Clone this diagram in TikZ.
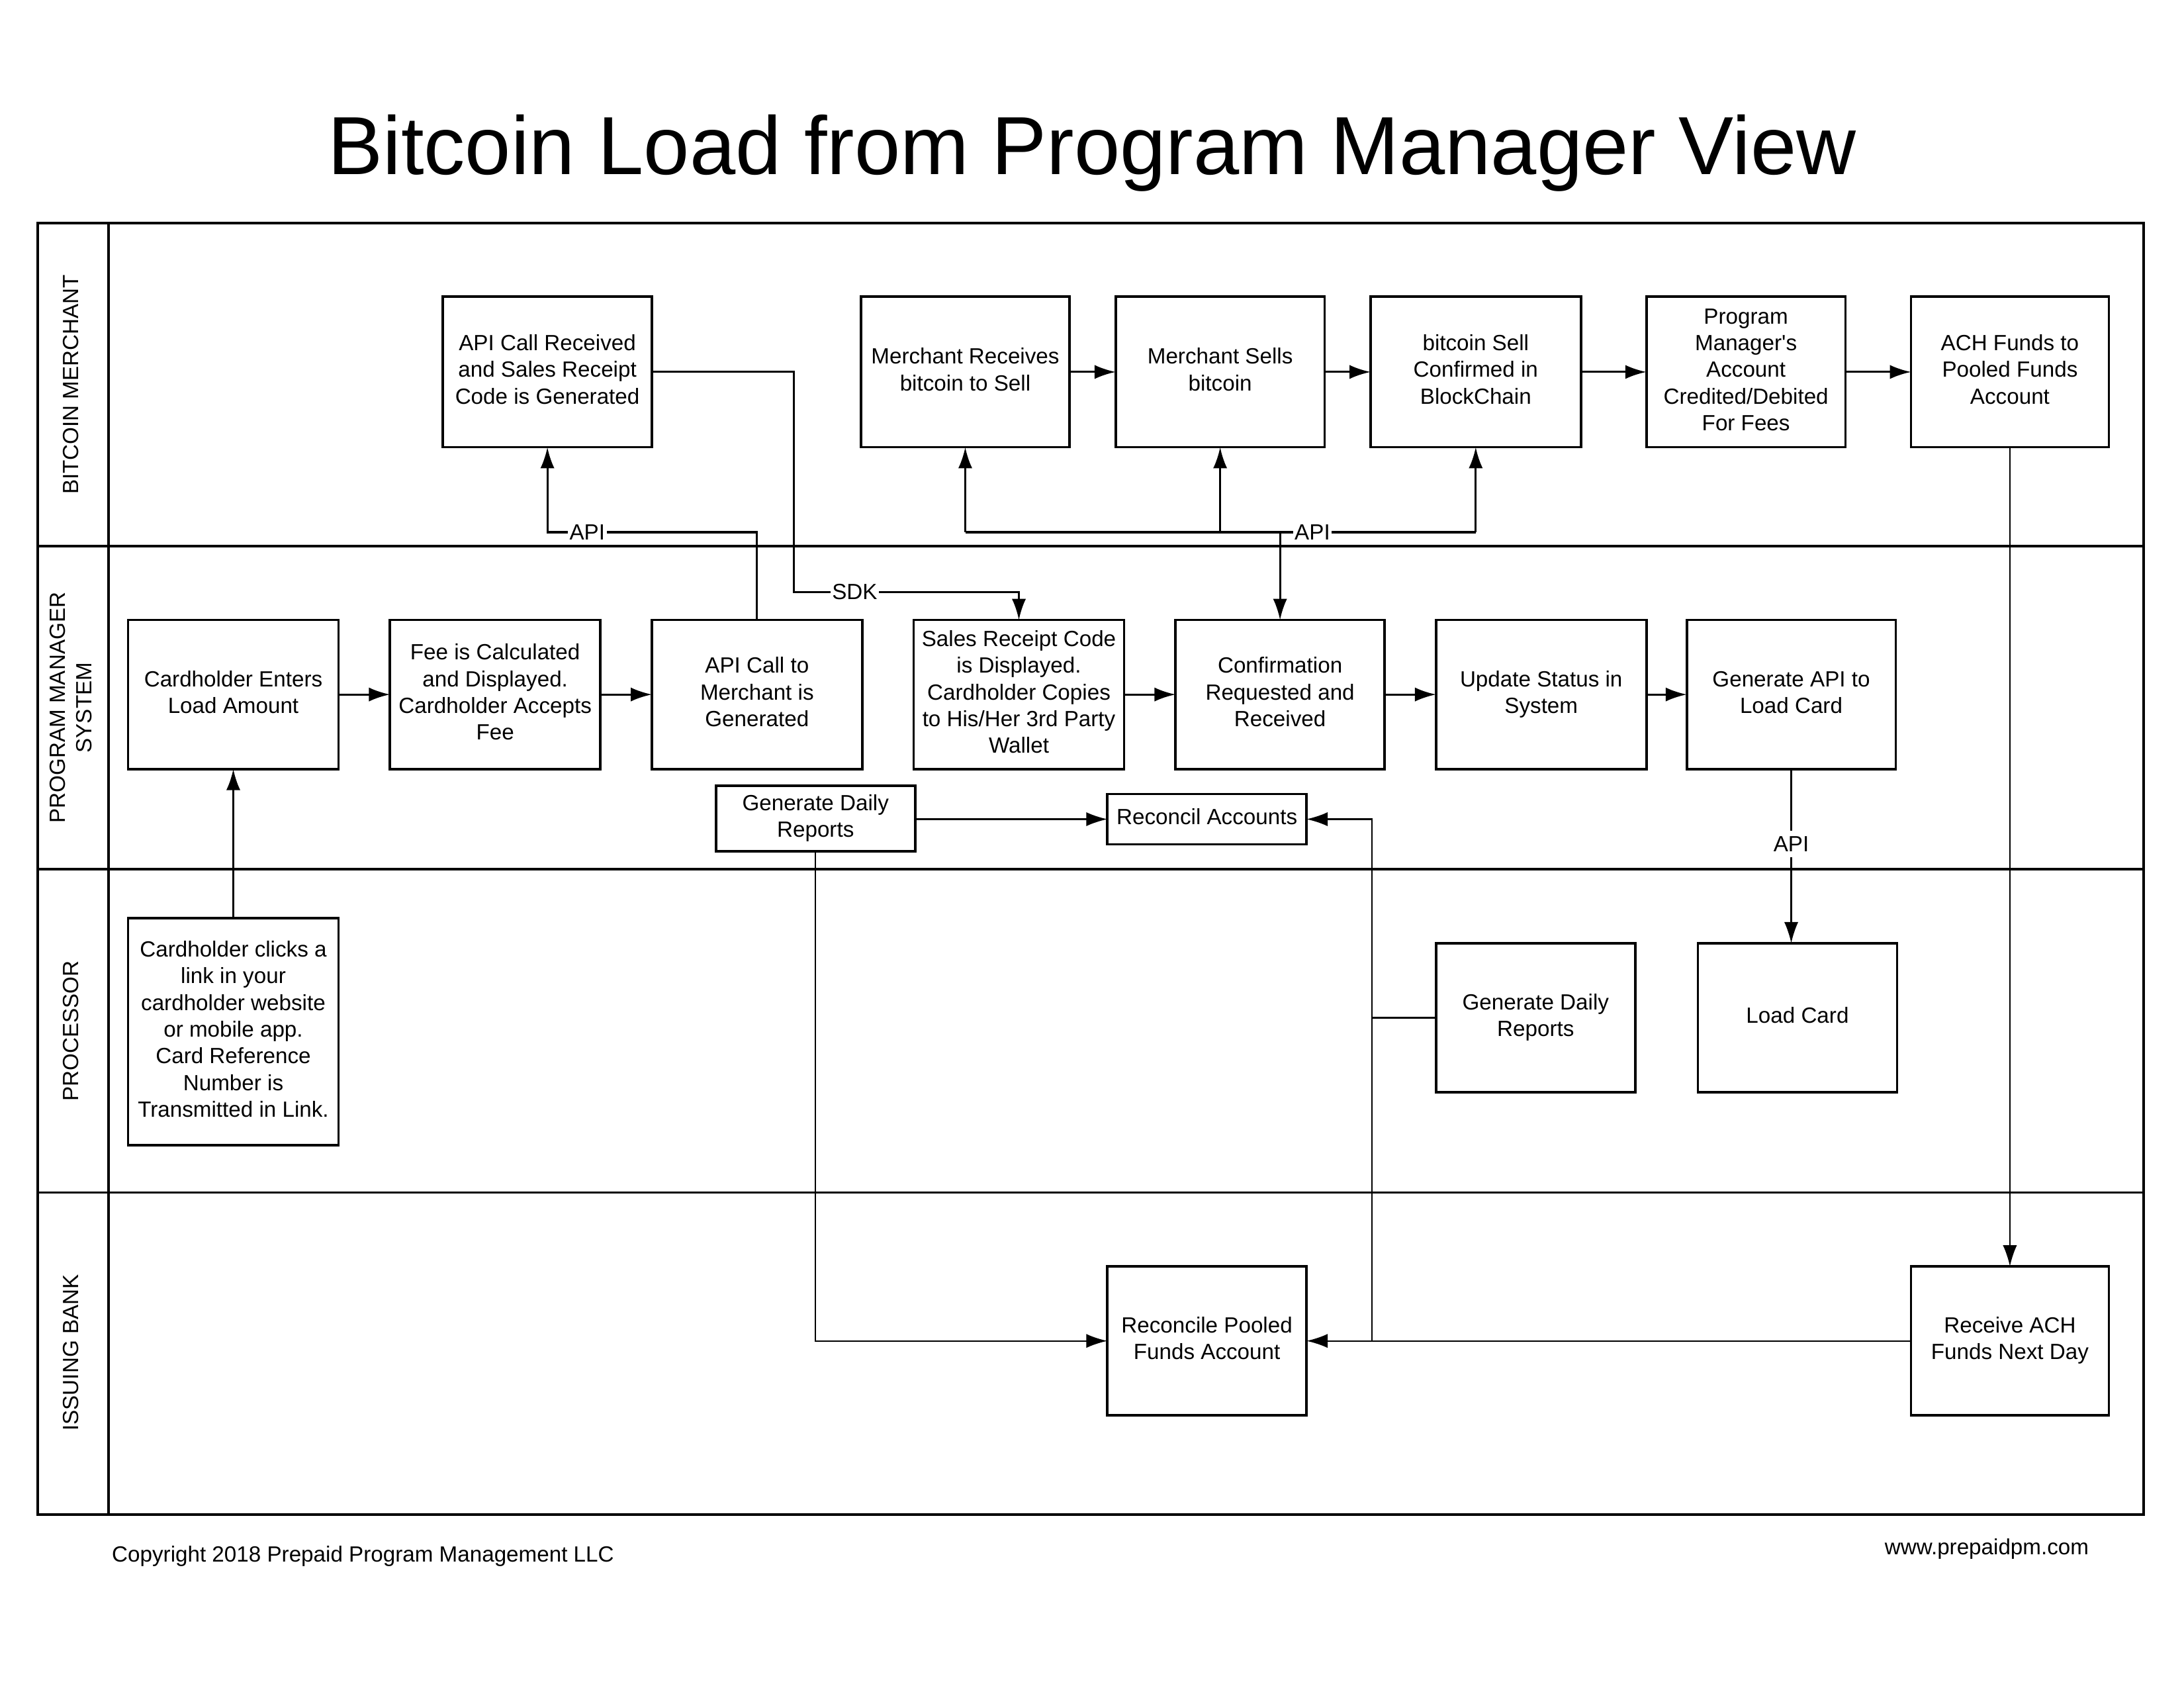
\documentclass[tikz,border=0pt]{standalone}
\usepackage{fontspec}
\setmainfont{Liberation Sans}
\usetikzlibrary{arrows.meta,calc}
\def\pxu{0.017819cm}
\tikzset{
  box/.style={draw, line width=0.9pt, inner sep=0pt, outer sep=0pt, align=center, font=\fontsize{8}{9.7}\selectfont},
  lane/.style={line width=0.9pt},
  conn/.style={line width=0.75pt},
  thin/.style={line width=0.55pt},
  arr/.style={-{Latex[length=0.27cm,width=0.18cm]}},
  lbl/.style={fill=white, inner sep=0.6pt, font=\fontsize{8}{9.7}\selectfont},
  lanelbl/.style={rotate=90, align=center, font=\fontsize{8}{9.7}\selectfont},
}
\newcommand\bx[6]{\node[box, minimum width={(#4-#2)*\pxu}, minimum height={(#5-#3)*\pxu}] (#1) at ({(#2+#4)/2},{(#3+#5)/2}) {\raisebox{1.5pt}{\begin{tabular}{@{}c@{}}#6\end{tabular}}};}
\begin{document}
\begin{tikzpicture}[x=0.017819cm, y=-0.017819cm]
\useasboundingbox (0,0) rectangle (1568,1211.6);
% title
\node[anchor=base, font=\fontsize{30}{36}\selectfont, inner sep=0pt] (title) at (784,125) {Bitcoin Load from Program Manager View};
% frame
\draw[lane] (27,160) rectangle (1539,1087);
\draw[lane] (78,160) -- (78,1087);
\draw[lane] (27,392) -- (1539,392);
\draw[lane] (27,624) -- (1539,624);
\draw[lane] (27,856) -- (1539,856);
% lane labels
\node[lanelbl] (l1) at (51,276) {BITCOIN MERCHANT};
\node[lanelbl] (l2) at (51,508) {PROGRAM MANAGER\\SYSTEM};
\node[lanelbl] (l3) at (51,740) {PROCESSOR};
\node[lanelbl] (l4) at (51,971) {ISSUING BANK};
% row 1
\bx{apirec}{318}{213}{468}{321}{API Call Received\\and Sales Receipt\\Code is Generated}
\bx{mrecv}{618}{213}{768}{321}{Merchant Receives\\bitcoin to Sell}
\bx{msell}{801}{213}{951}{321}{Merchant Sells\\bitcoin}
\bx{bconf}{984}{213}{1135}{321}{bitcoin Sell\\Confirmed in\\BlockChain}
\bx{pmacct}{1182}{213}{1325}{321}{Program\\Manager\textquotesingle s\\Account\\Credited/Debited\\For Fees}
\bx{ach}{1372}{213}{1514}{321}{ACH Funds to\\Pooled Funds\\Account}
% row 2
\bx{enter}{92}{445}{243}{552}{Cardholder Enters\\Load Amount}
\bx{fee}{280}{445}{431}{552}{Fee is Calculated\\and Displayed.\\Cardholder Accepts\\Fee}
\bx{apicall}{468}{445}{619}{552}{API Call to\\Merchant is\\Generated}
\bx{sales}{656}{445}{807}{552}{Sales Receipt Code\\is Displayed.\\Cardholder Copies\\to His/Her 3rd Party\\Wallet}
\bx{confirm}{844}{445}{994}{552}{Confirmation\\Requested and\\Received}
\bx{update}{1031}{445}{1182}{552}{Update Status in\\System}
\bx{genapi}{1211}{445}{1361}{552}{Generate API to\\Load Card}
\bx{gdra}{514}{564}{657}{611}{Generate Daily\\Reports}
\bx{recacc}{795}{570}{938}{606}{Reconcil Accounts}
% processor
\bx{clicks}{92}{659}{243}{822}{Cardholder clicks a\\link in your\\cardholder website\\or mobile app.\\Card Reference\\Number is\\Transmitted in Link.}
\bx{gdrb}{1031}{677}{1174}{784}{Generate Daily\\Reports}
\bx{loadcard}{1219}{677}{1362}{784}{Load Card}
% bank
\bx{recpool}{795}{909}{938}{1016}{Reconcile Pooled\\Funds Account}
\bx{rach}{1372}{909}{1514}{1016}{Receive ACH\\Funds Next Day}
% footer
\node[anchor=base west, inner sep=0pt, font=\fontsize{8}{9.7}\selectfont] (copy) at (80,1121) {Copyright 2018 Prepaid Program Management LLC};
\node[anchor=base east, inner sep=0pt, font=\fontsize{8}{9.7}\selectfont] (www) at (1500,1116) {www.prepaidpm.com};
% connectors row 1
\draw[conn,arr] (mrecv.east) -- (msell.west);
\draw[conn,arr] (msell.east) -- (bconf.west);
\draw[conn,arr] (bconf.east) -- (pmacct.west);
\draw[conn,arr] (pmacct.east) -- (ach.west);
% row 2
\draw[conn,arr] (enter.east) -- (fee.west);
\draw[conn,arr] (fee.east) -- (apicall.west);
\draw[conn,arr] (sales.east) -- (confirm.west);
\draw[conn,arr] (confirm.east) -- (update.west);
\draw[conn,arr] (update.east) -- (genapi.west);
\draw[conn,arr] (clicks.north) -- (enter.south);
% API to merchant
\coordinate (ya) at (0,382);
\draw[conn,arr] (apicall.north) -- (apicall.north |- ya) -- node[lbl, pos=0.81]{API} (apirec.south |- ya) -- (apirec.south);
% SDK
\coordinate (sx) at (570,425);
\draw[conn,arr] (apirec.east) -- (apirec.east -| sx) -- (sx) -- node[lbl, pos=0.27]{SDK} (sales.north |- sx) -- (sales.north);
% API fork
\draw[conn] (mrecv.south |- ya) -- node[lbl, pos=0.68]{API} (bconf.south |- ya);
\draw[conn,arr] (mrecv.south |- ya) -- (mrecv.south);
\draw[conn,arr] (msell.south |- ya) -- (msell.south);
\draw[conn,arr] (bconf.south |- ya) -- (bconf.south);
\draw[conn,arr] (confirm.north |- ya) -- (confirm.north);
% ACH down
\draw[thin,arr] (ach.south) -- (rach.north);
% generate API -> load card
\draw[thin,arr] (genapi.south) -- node[lbl, pos=0.43, inner sep=2pt]{API} (genapi.south |- loadcard.north);
% daily reports
\draw[thin,arr] (gdra.east |- recacc.west) -- (recacc.west);
\draw[thin,arr] (gdra.south) |- (recpool.west);
\coordinate (vx) at (985,0);
\draw[thin,arr] (gdrb.west) -- (gdrb.west -| vx) |- (recacc.east);
\draw[thin] (gdrb.west -| vx) -- (recpool.east -| vx);
\draw[thin,arr] (rach.west) -- (recpool.east);
\end{tikzpicture}
\end{document}
